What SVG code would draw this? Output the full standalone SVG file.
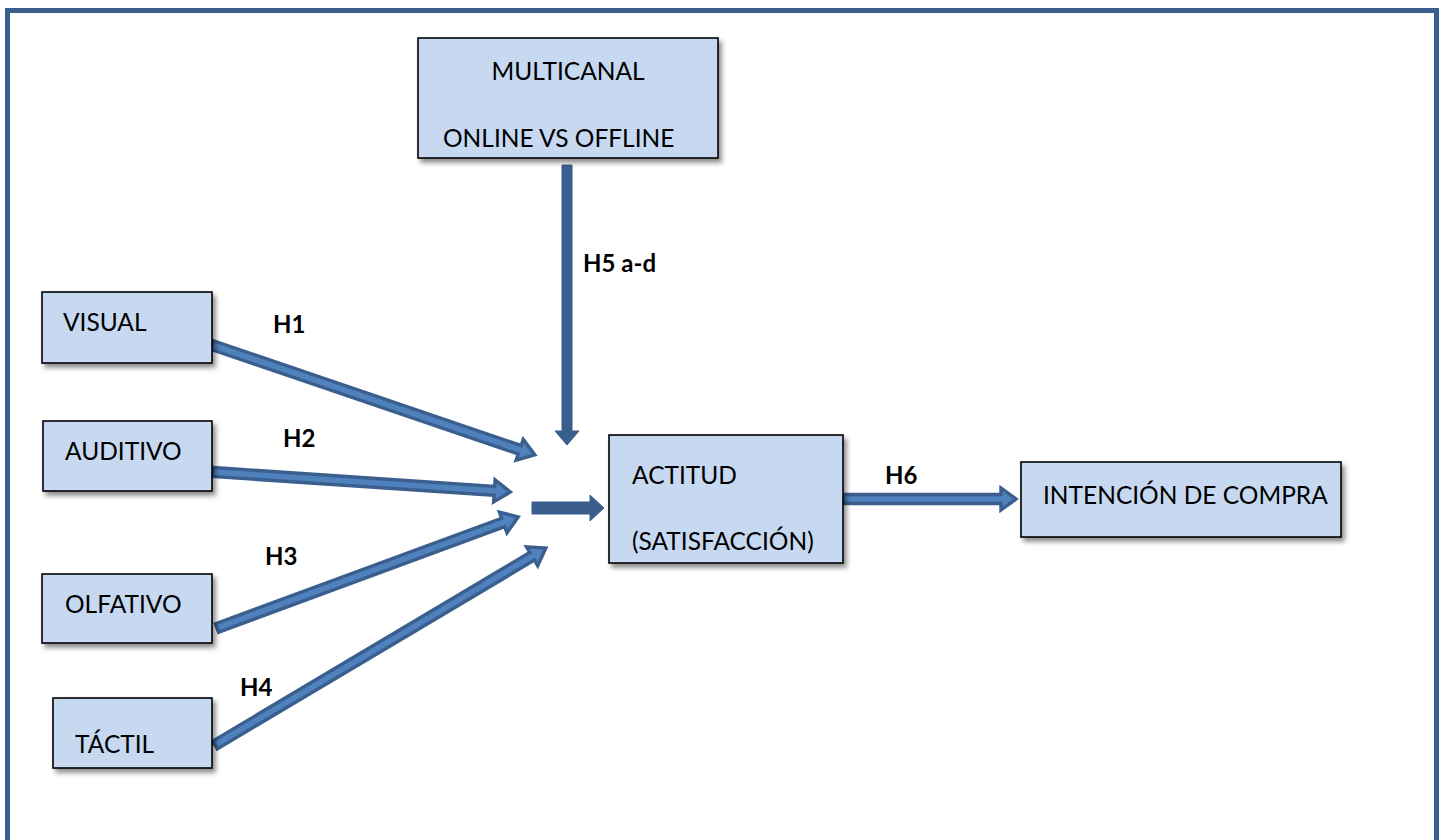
<svg xmlns="http://www.w3.org/2000/svg" width="1444" height="840" viewBox="0 0 1444 840">
<defs>
<filter id="sh" x="-10%" y="-10%" width="130%" height="140%">
<feDropShadow dx="3" dy="4" stdDeviation="2.5" flood-color="#000" flood-opacity="0.45"/>
</filter>
</defs>
<style>
.box{fill:#c6d9f1;stroke:#000;stroke-width:1.6;filter:url(#sh)}
.t{font-family:Lato,"Open Sans","Liberation Sans",sans-serif;font-size:24.5px;fill:#000}
.h{font-family:Lato,"Open Sans","Liberation Sans",sans-serif;font-size:24px;font-weight:bold;fill:#000}
.arr{fill:#4f81bd;stroke:#3a5f8e;stroke-width:3.4;stroke-linejoin:miter}
.solid{fill:#3a5f8e;stroke:#385d8a;stroke-width:1}
</style>
<rect x="7.5" y="10.5" width="1429" height="840" fill="#fff" stroke="#3a5f8e" stroke-width="5"/>
<g id="connectors">
<g transform="translate(212,345) rotate(18.8)"><polygon class="arr" points="0,-4.5 325,-4.5 325,-11 341,0 325,11 325,4.5 0,4.5"/></g>
<g transform="translate(213,472) rotate(3.85)"><polygon class="arr" points="0,-4.5 282,-4.5 282,-11 298,0 282,11 282,4.5 0,4.5"/></g>
<g transform="translate(217,628) rotate(-20.24)"><polygon class="arr" points="0,-4.5 305,-4.5 305,-11 321,0 305,11 305,4.5 0,4.5"/></g>
<g transform="translate(215,745) rotate(-30.76)"><polygon class="arr" points="0,-4.5 369,-4.5 369,-11 385,0 369,11 369,4.5 0,4.5"/></g>
<g transform="translate(567,165) rotate(90)"><polygon class="solid" points="0,-5 266,-5 266,-12 280,0 266,12 266,5 0,5"/></g>
<g transform="translate(532,508)"><polygon class="solid" points="0,-6 58,-6 58,-13 72,0 58,13 58,6 0,6"/></g>
<g transform="translate(843,499)"><polygon class="arr" points="0,-4.5 158,-4.5 158,-11 173,0 158,11 158,4.5 0,4.5"/></g>
</g>
<g id="multicanal"><rect class="box" x="418" y="38" width="300" height="120"/>
<text class="t" x="568" y="80" text-anchor="middle">MULTICANAL</text>
<text class="t" x="443" y="147">ONLINE VS OFFLINE</text></g>
<g id="visual"><rect class="box" x="42" y="292" width="170" height="71"/><text class="t" x="63" y="331">VISUAL</text></g>
<g id="auditivo"><rect class="box" x="43" y="421" width="169" height="70"/><text class="t" x="65" y="460">AUDITIVO</text></g>
<g id="olfativo"><rect class="box" x="42" y="574" width="170" height="69"/><text class="t" x="65" y="613">OLFATIVO</text></g>
<g id="tactil"><rect class="box" x="53" y="698" width="159" height="70"/><text class="t" x="75" y="753">TÁCTIL</text></g>
<g id="actitud"><rect class="box" x="609" y="435" width="234" height="128"/>
<text class="t" x="632" y="484">ACTITUD</text><text class="t" x="632" y="550">(SATISFACCIÓN)</text></g>
<g id="intencion"><rect class="box" x="1021" y="462" width="320" height="75"/><text class="t" x="1043" y="504">INTENCIÓN DE COMPRA</text></g>
<g id="labels">
<text class="h" x="273" y="333">H1</text>
<text class="h" x="283" y="447">H2</text>
<text class="h" x="265" y="565">H3</text>
<text class="h" x="240" y="696">H4</text>
<text class="h" x="583" y="272">H5 a-d</text>
<text class="h" x="885" y="484">H6</text>
</g>
</svg>
